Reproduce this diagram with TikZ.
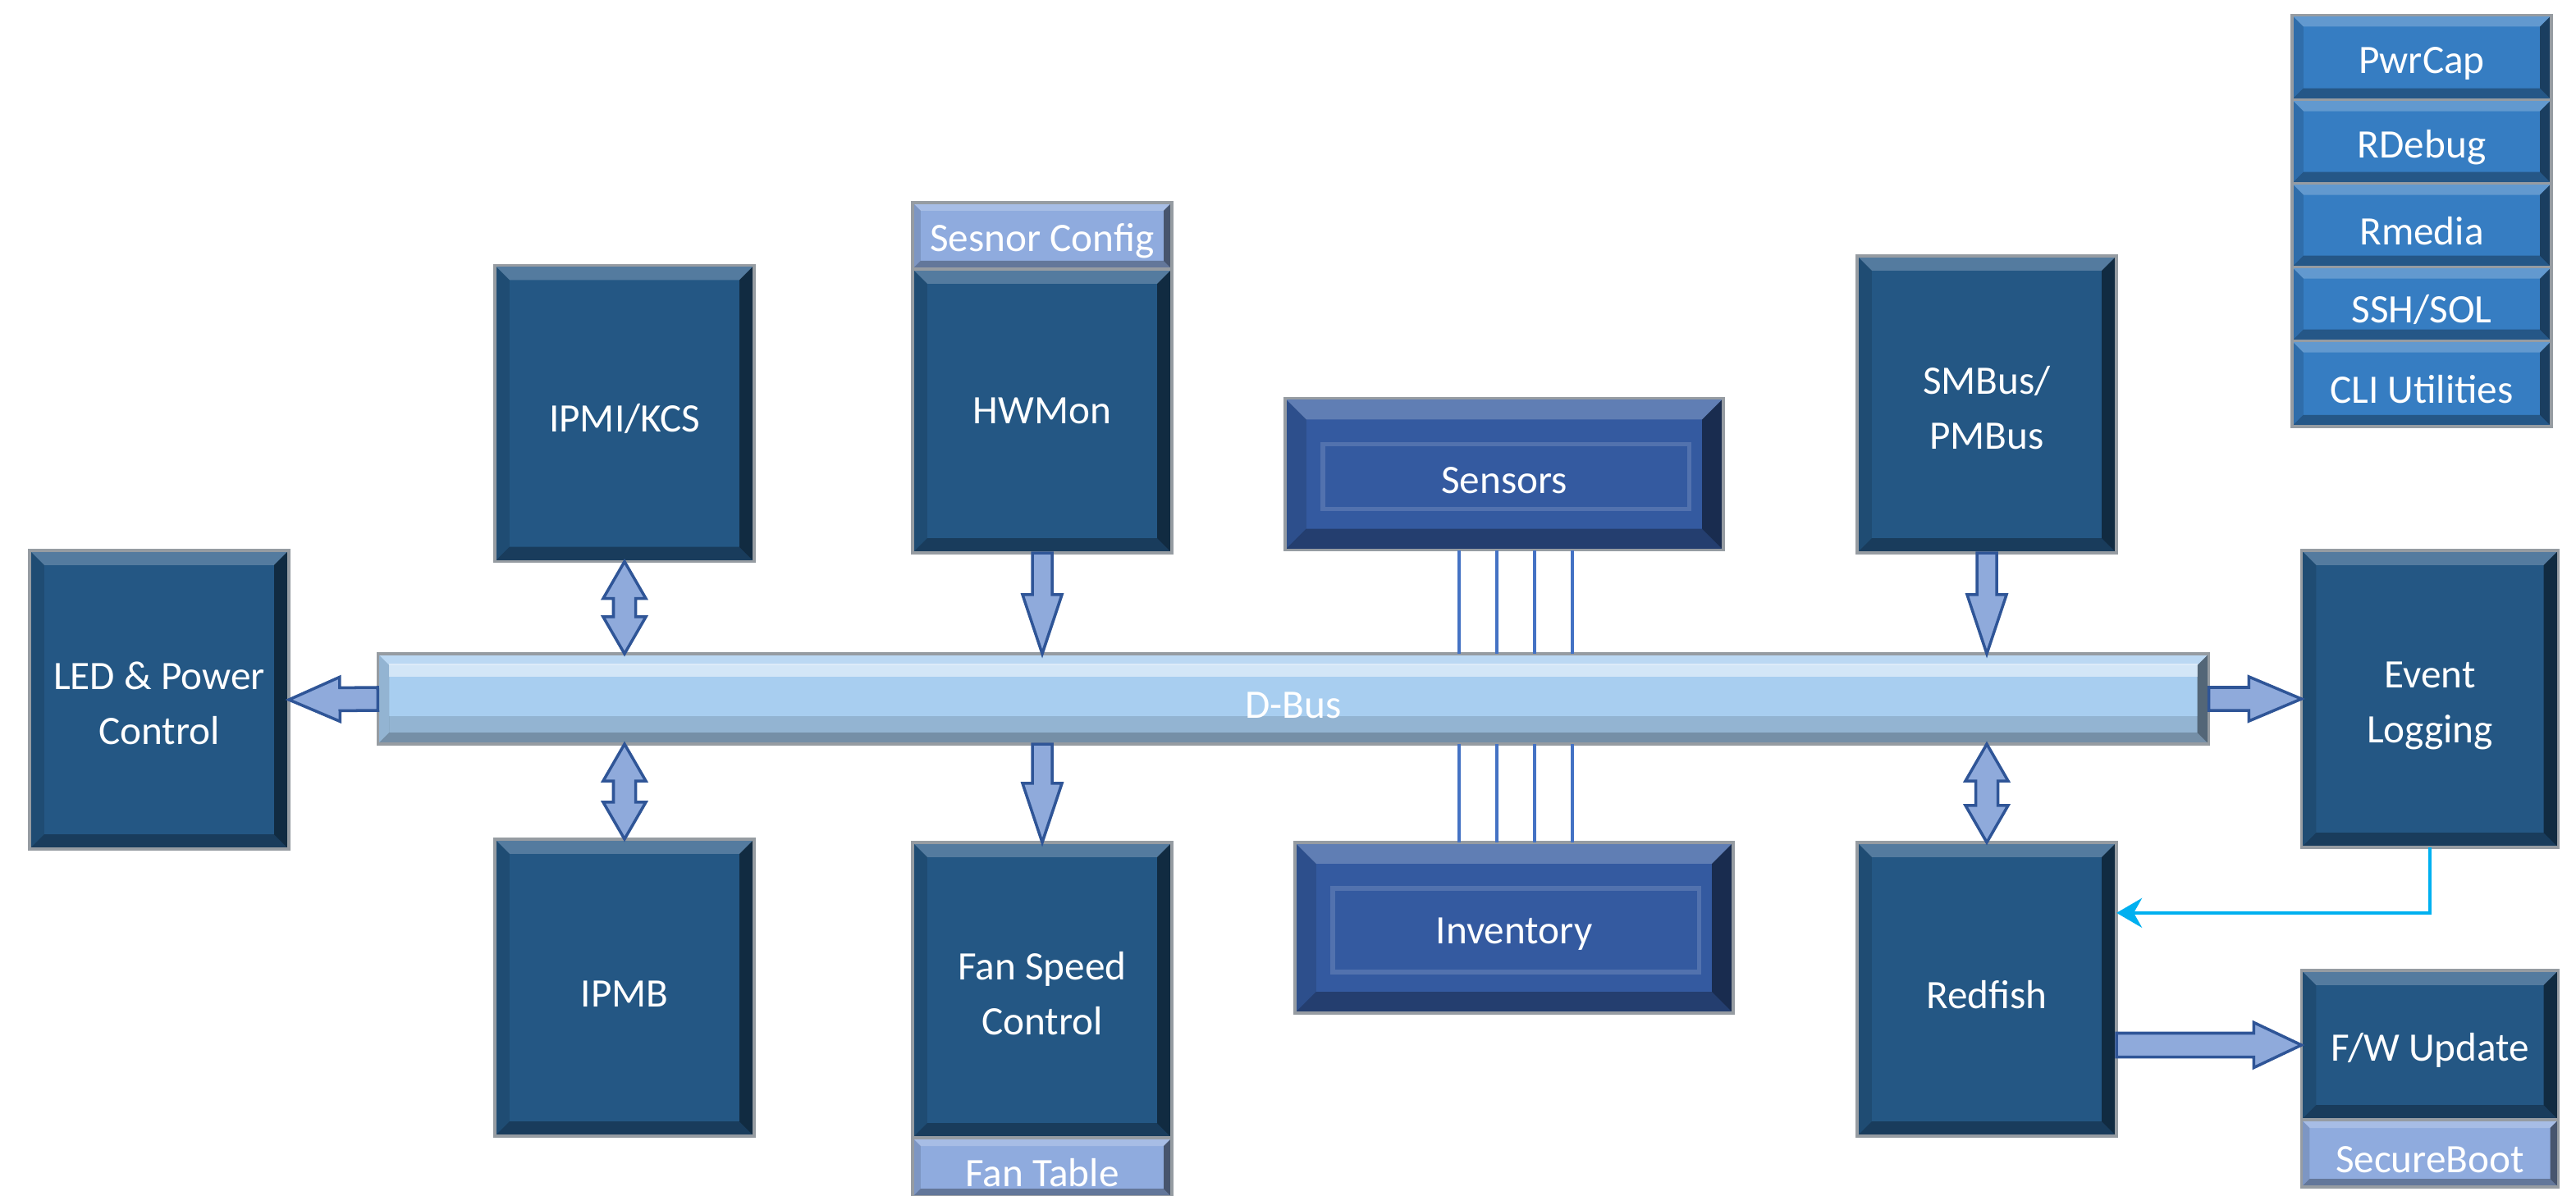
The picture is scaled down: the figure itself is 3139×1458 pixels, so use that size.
\documentclass[tikz,border=0pt]{standalone}
\usepackage{fontspec}
\setmainfont{Carlito}
\usetikzlibrary{calc,positioning,arrows.meta}

\definecolor{boxblue}{RGB}{36,87,132}
\definecolor{stackblue}{RGB}{54,125,194}
\definecolor{panelblue}{RGB}{52,90,160}
\definecolor{paleblue}{RGB}{143,171,222}
\definecolor{busblue}{RGB}{168,206,240}
\definecolor{arrowfill}{RGB}{143,170,219}
\definecolor{arrowline}{RGB}{47,85,151}
\definecolor{wireblue}{RGB}{68,114,196}
\definecolor{linkcyan}{RGB}{0,176,240}
\definecolor{framegray}{RGB}{150,156,162}

\newcommand{\bevelframe}[1]{%
  \path (path picture bounding box.north west) coordinate (pnw)
        (path picture bounding box.south east) coordinate (pse);
  \fill[white,opacity=.22] (pnw) -- (pse |- pnw) -- ($(pse |- pnw)+(-#1,#1)$) -- ($(pnw)+(#1,#1)$) -- cycle;
  \fill[black,opacity=.12] (pnw) -- (pnw |- pse) -- ($(pnw |- pse)+(#1,-#1)$) -- ($(pnw)+(#1,#1)$) -- cycle;
  \fill[black,opacity=.3] (pnw |- pse) -- (pse) -- ($(pse)+(-#1,-#1)$) -- ($(pnw |- pse)+(#1,-#1)$) -- cycle;
  \fill[black,opacity=.5] (pse) -- (pse |- pnw) -- ($(pse |- pnw)+(-#1,#1)$) -- ($(pse)+(-#1,-#1)$) -- cycle;
}

\tikzset{
  blkone/.style n args={3}{to path={
    -- ($(\tikztostart)!#1!90:(\tikztotarget)$)
    -- ($($(\tikztotarget)!#3!(\tikztostart)$)!#1!90:(\tikztotarget)$)
    -- ($($(\tikztotarget)!#3!(\tikztostart)$)!#2!90:(\tikztotarget)$)
    -- (\tikztotarget)
    -- ($($(\tikztotarget)!#3!(\tikztostart)$)!#2!-90:(\tikztotarget)$)
    -- ($($(\tikztotarget)!#3!(\tikztostart)$)!#1!-90:(\tikztotarget)$)
    -- ($(\tikztostart)!#1!-90:(\tikztotarget)$)
    -- cycle}},
  blktwo/.style n args={3}{to path={
    -- ($($(\tikztostart)!#3!(\tikztotarget)$)!#2!90:(\tikztotarget)$)
    -- ($($(\tikztostart)!#3!(\tikztotarget)$)!#1!90:(\tikztotarget)$)
    -- ($($(\tikztotarget)!#3!(\tikztostart)$)!#1!90:(\tikztotarget)$)
    -- ($($(\tikztotarget)!#3!(\tikztostart)$)!#2!90:(\tikztotarget)$)
    -- (\tikztotarget)
    -- ($($(\tikztotarget)!#3!(\tikztostart)$)!#2!-90:(\tikztotarget)$)
    -- ($($(\tikztotarget)!#3!(\tikztostart)$)!#1!-90:(\tikztotarget)$)
    -- ($($(\tikztostart)!#3!(\tikztotarget)$)!#1!-90:(\tikztotarget)$)
    -- ($($(\tikztostart)!#3!(\tikztotarget)$)!#2!-90:(\tikztotarget)$)
    -- cycle}}
}

\begin{document}
\begin{tikzpicture}[x=0.01cm, y=-0.01cm]
    \tikzstyle{plate}=[draw=framegray, line width=1pt, text=white, inner sep=0pt, outer sep=0pt, align=center, minimum width=3.16cm,
      font=\fontsize{14}{19}\selectfont]
    \tikzstyle{lowtext}=[execute at begin node={\rule{0pt}{13.5pt}}]
    \tikzstyle{box}=[plate, lowtext, fill=boxblue, path picture={\bevelframe{18}}]
    \tikzstyle{thinbox}=[plate, lowtext, fill=paleblue, path picture={\bevelframe{10}}]
    \tikzstyle{stackbox}=[plate, lowtext, fill=stackblue, path picture={\bevelframe{14}}]
    \tikzstyle{panel}=[plate, lowtext, fill=panelblue, minimum width=5.34cm, path picture={\bevelframe{26}
      \draw[white, opacity=.15, line width=1.5pt] ($(pnw)+(46,56)$) rectangle ($(pse)+(-42,-50)$);}]
    \tikzstyle{bus}=[plate, lowtext, fill=busblue, minimum width=22.3cm, minimum height=1.1cm, path picture={\bevelframe{14}
      \fill[white, opacity=.5] ($(pnw)+(14,12)$) rectangle ($(pse |- pnw)+(-14,28)$);
      \fill[black, opacity=.12] ($(pnw |- pse)+(14,-34)$) rectangle ($(pse)+(-14,-14)$);}]
    \tikzstyle{blk}=[draw=arrowline, fill=arrowfill, line width=1pt]
    \tikzstyle{wire}=[draw=wireblue, line width=1.3pt]
    \tikzstyle{logline}=[draw=linkcyan, line width=1pt, -{Stealth[length=0.31cm, width=0.36cm]}]

    \path[use as bounding box, fill=white] (0,0) rectangle (3139,1458);

    \node[bus] (dbus) at (1576,852) {D-Bus};
    \node[box, minimum height=3.64cm] (led) at (194,853) {\rule{0pt}{12pt}LED \& Power\\Control};
    \node[box, minimum height=3.61cm] (ipmi) at (761,504) {IPMI/KCS};
    \node[box, minimum height=3.62cm] (ipmb) at (761,1204) {IPMB};
    \node[plate, fill=boxblue, path picture={\bevelframe{18}}, minimum height=3.46cm] (hwmon) at (1270,501) {HWMon};
    \node[thinbox, minimum height=0.81cm, above=0pt of hwmon] (sensorcfg) {Sesnor Config};
    \node[box, minimum height=3.6cm] (fanctl) at (1270,1207) {\rule{0pt}{12pt}Fan Speed\\Control};
    \node[thinbox, minimum height=0.72cm, below=0pt of fanctl] (fantable) {Fan Table};
    \node[panel, minimum height=1.85cm] (sensors) at (1833,578) {Sensors};
    \node[panel, minimum height=2.08cm] (inventory) at (1845,1131) {Inventory};
    \node[box, minimum height=3.62cm] (smbus) at (2421,493) {\rule{0pt}{12pt}SMBus/\\PMBus};
    \node[box, minimum height=3.58cm] (redfish) at (2421,1206) {Redfish};
    \node[box, minimum width=3.13cm, minimum height=3.62cm] (eventlog) at (2961,852) {\rule{0pt}{14pt}Event\\Logging};
    \node[box, minimum width=3.13cm, minimum height=1.82cm] (fwupdate) at (2961,1274) {F/W Update};
    \node[thinbox, minimum width=3.13cm, minimum height=0.82cm, below=0pt of fwupdate] (secureboot) {SecureBoot};

    \node[stackbox, minimum height=1.03cm] (pwrcap) at (2951,70) {PwrCap};
    \node[stackbox, minimum height=1.02cm, below=0pt of pwrcap] (rdebug) {RDebug};
    \node[stackbox, minimum height=1.02cm, below=0pt of rdebug] (rmedia) {Rmedia};
    \node[stackbox, minimum height=0.9cm, below=0pt of rmedia] (sshsol) {SSH/SOL};
    \node[stackbox, minimum height=1.04cm, below=0pt of sshsol] (cli) {CLI Utilities};

    \draw[blk] (dbus.west) to[blkone={0.14cm}{0.27cm}{0.62cm}] (led.east);
    \draw[blk] (dbus.east) to[blkone={0.14cm}{0.27cm}{0.64cm}] (eventlog.west);
    \draw[blk] (redfish.east |- fwupdate.west) to[blkone={0.145cm}{0.275cm}{0.58cm}] (fwupdate.west);
    \draw[blk] (hwmon.south) to[blkone={0.12cm}{0.24cm}{0.72cm}] (hwmon.south |- dbus.north);
    \draw[blk] (fanctl.north |- dbus.south) to[blkone={0.12cm}{0.24cm}{0.72cm}] (fanctl.north);
    \draw[blk] (smbus.south) to[blkone={0.12cm}{0.24cm}{0.72cm}] (smbus.south |- dbus.north);
    \draw[blk] (ipmi.south) to[blktwo={0.135cm}{0.26cm}{0.45cm}] (ipmi.south |- dbus.north);
    \draw[blk] (ipmb.north |- dbus.south) to[blktwo={0.135cm}{0.26cm}{0.45cm}] (ipmb.north);
    \draw[blk] (redfish.north |- dbus.south) to[blktwo={0.135cm}{0.26cm}{0.45cm}] (redfish.north);

    \foreach \dx in {212,258,304,350} {
      \coordinate (w) at ($(sensors.south west)+(\dx,0)$);
      \draw[wire] (w) -- (w |- dbus.north);
      \draw[wire] (w |- dbus.south) -- (w |- inventory.north);
    }

    \draw[logline] (eventlog.south) |- ($(redfish.north east)!0.24!(redfish.south east)$);
\end{tikzpicture}
\end{document}
